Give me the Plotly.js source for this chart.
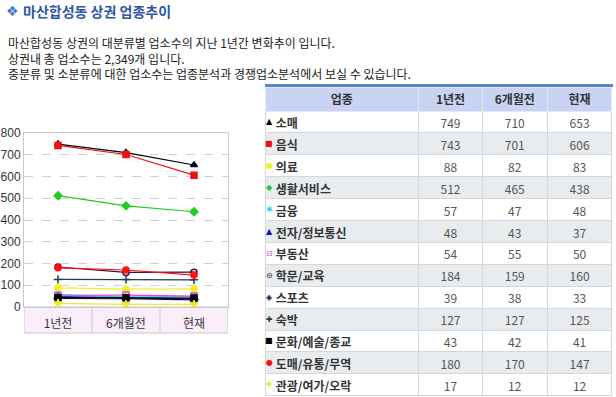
<!DOCTYPE html>
<html><head><meta charset="utf-8">
<script src="https://cdn.plot.ly/plotly-3.0.1.min.js"></script>
<style>html,body{margin:0;padding:0;background:#fff;overflow:hidden;} #chart{width:616px;height:397px;}</style>
</head><body><div id="chart"></div>
<script>
// ---- data ----
const periods = ['1년전', '6개월전', '현재'];
const industries = ['소매', '음식', '의료', '생활서비스', '금융', '전자/정보통신', '부동산', '학문/교육', '스포츠', '숙박', '문화/예술/종교', '도매/유통/무역', '관광/여가/오락'];
const oneYearAgo = [749, 743, 88, 512, 57, 48, 54, 184, 39, 127, 43, 180, 17];
const sixMonthsAgo = [710, 701, 82, 465, 47, 43, 55, 159, 38, 127, 42, 170, 12];
const current = [653, 606, 83, 438, 48, 37, 50, 160, 33, 125, 41, 147, 12];
const yTickVals = [0, 100, 200, 300, 400, 500, 600, 700, 800];
const tableHeader = ['업종', '1년전', '6개월전', '현재'];
const titleText = '마산합성동 상권 업종추이';
const introLines = [
  '마산합성동 상권의 대분류별 업소수의 지난 1년간 변화추이 입니다.',
  '상권내 총 업소수는 2,349개 입니다.',
  '중분류 및 소분류에 대한 업소수는 업종분석과 경쟁업소분석에서 보실 수 있습니다.'
];

// ---- styles ----
const W = 616, H = 397;
const KR = '"Noto Sans CJK KR", "Noto Sans", sans-serif';
const seriesStyle = [
  {color: '#000000', symbol: 'triangle-up', icon: '▲'},
  {color: '#ee1111', symbol: 'square', icon: '■'},
  {color: '#f4f020', symbol: 'circle', icon: '●'},
  {color: '#22cc22', symbol: 'diamond', icon: '◆'},
  {color: '#33d6e8', symbol: 'asterisk-open', icon: '✱'},
  {color: '#1010c0', symbol: 'triangle-up', icon: '▲'},
  {color: '#e040e0', symbol: 'square-open', icon: '⊟'},
  {color: '#3a0a3a', symbol: 'circle-open', icon: '⊖'},
  {color: '#0a0a40', symbol: 'diamond-open', icon: '◈'},
  {color: '#1e3e4e', symbol: 'cross-thin-open', icon: '✚'},
  {color: '#000000', symbol: 'square', icon: '■'},
  {color: '#ff1010', symbol: 'circle', icon: '●'},
  {color: '#f0e830', symbol: 'star', icon: '✸'}
];

const px = v => v / W;
const py = v => 1 - v / H;

const traces = industries.map((name, i) => ({
  type: 'scatter', mode: 'lines+markers', name: name,
  x: periods, y: [oneYearAgo[i], sixMonthsAgo[i], current[i]],
  xaxis: 'x', yaxis: 'y',
  line: {color: seriesStyle[i].color, width: 1.2},
  marker: {symbol: seriesStyle[i].symbol, color: seriesStyle[i].color, size: 6,
           line: {color: seriesStyle[i].color, width: 1.5}},
  cliponaxis: false, hoverinfo: 'skip'
}));

const headerH = 24, rowH = 21.9, tableTop = 87;
const bodyTop = tableTop + headerH, bodyBottom = bodyTop + rowH * industries.length;

const rowFill = industries.map((_, i) => i % 2 === 0 ? '#ffffff' : '#e8ecee');
traces.push({
  type: 'table',
  domain: {x: [px(265), px(613)], y: [0, py(tableTop)]},
  columnwidth: [154, 64, 65, 65],
  header: {
    values: tableHeader,
    align: 'center', height: headerH,
    fill: {color: '#c9d3f3'},
    line: {color: '#e4e8f4', width: 1},
    font: {family: KR, size: 12, color: '#333333', weight: 'bold'}
  },
  cells: {
    values: [industries.map(n => '\u00a0' + n), oneYearAgo, sixMonthsAgo, current],
    align: ['left', 'center', 'center', 'center'], height: rowH,
    fill: {color: [rowFill, rowFill, rowFill, rowFill]},
    line: {color: '#d4d8dc', width: 1},
    font: {family: KR, size: 12, color: ['#333333', '#555555', '#555555', '#555555'],
           weight: ['bold', 'normal', 'normal', 'normal']}
  }
});

// invisible helper trace so the icon axes exist
traces.push({
  type: 'scatter', mode: 'markers', xaxis: 'x2', yaxis: 'y2',
  x: industries.map(() => 0), y: industries, marker: {opacity: 0}, hoverinfo: 'skip'
});

const annotations = [
  {xref: 'paper', yref: 'paper', x: px(4), y: py(11), xanchor: 'left', yanchor: 'middle',
   text: '❖', showarrow: false, font: {family: 'DejaVu Sans', size: 14, color: '#3a78d0'}},
  {xref: 'paper', yref: 'paper', x: px(21), y: py(11), xanchor: 'left', yanchor: 'middle',
   text: '<b>' + titleText + '</b>', showarrow: false, font: {family: KR, size: 14, color: '#2f55a8'}},
  {xref: 'paper', yref: 'paper', x: px(6), y: py(58), xanchor: 'left', yanchor: 'middle', align: 'left',
   text: introLines.join('<br>'), showarrow: false, font: {family: KR, size: 12, color: '#222222'}}
];
// legend icons in the table's first column, placed on their own category axis
industries.forEach((n, i) => annotations.push({
  xref: 'x2', yref: 'y2', x: 0, y: n, xanchor: 'center', yanchor: 'middle', showarrow: false,
  borderpad: 0,
  text: seriesStyle[i].icon, font: {family: 'DejaVu Sans', size: 8, color: seriesStyle[i].color}
}));

const shapes = [
  {type: 'rect', xref: 'paper', yref: 'paper', x0: px(265), x1: px(613), y0: py(tableTop), y1: py(tableTop - 3),
   fillcolor: '#5a87c5', line: {width: 0}},
  {type: 'rect', xref: 'x', yref: 'paper', x0: -0.5, x1: 2.5, y0: py(333), y1: py(307),
   fillcolor: '#fbeefb', line: {color: '#c8c8c8', width: 1}, layer: 'below'},
  {type: 'line', xref: 'x', yref: 'paper', x0: 0.5, x1: 0.5, y0: py(333), y1: py(307),
   line: {color: '#c8c8c8', width: 1}},
  {type: 'line', xref: 'x', yref: 'paper', x0: 1.5, x1: 1.5, y0: py(333), y1: py(307),
   line: {color: '#c8c8c8', width: 1}}
];

const layout = {
  width: W, height: H, margin: {l: 0, r: 0, t: 0, b: 0},
  paper_bgcolor: '#ffffff', plot_bgcolor: '#ffffff', showlegend: false,
  xaxis: {domain: [px(24), px(228)], type: 'category', range: [-0.5, 2.5], anchor: 'y',
          showline: true, mirror: true, linecolor: '#c8c8c8', linewidth: 1,
          showgrid: false, zeroline: false, ticks: '', ticklabelstandoff: 6,
          tickfont: {family: KR, size: 12, color: '#333333'}, fixedrange: true},
  yaxis: {domain: [py(307), py(133)], range: [0, 800], tickvals: yTickVals, anchor: 'x',
          showline: true, mirror: true, linecolor: '#c8c8c8', linewidth: 1,
          showgrid: true, gridcolor: '#d0d0d0', griddash: 'dash', zeroline: false, ticks: '',
          tickfont: {family: 'Liberation Sans, Arial, sans-serif', size: 12, color: '#333333'},
          fixedrange: true},
  xaxis2: {domain: [px(264), px(274)], range: [-1, 1], anchor: 'y2', visible: false, fixedrange: true},
  yaxis2: {domain: [py(bodyBottom), py(bodyTop)], type: 'category', categoryorder: 'array',
           categoryarray: industries, range: [industries.length - 0.5, -0.5], anchor: 'x2',
           visible: false, fixedrange: true},
  shapes: shapes, annotations: annotations
};

Plotly.newPlot('chart', traces, layout, {displayModeBar: false, staticPlot: true});
</script></body></html>
